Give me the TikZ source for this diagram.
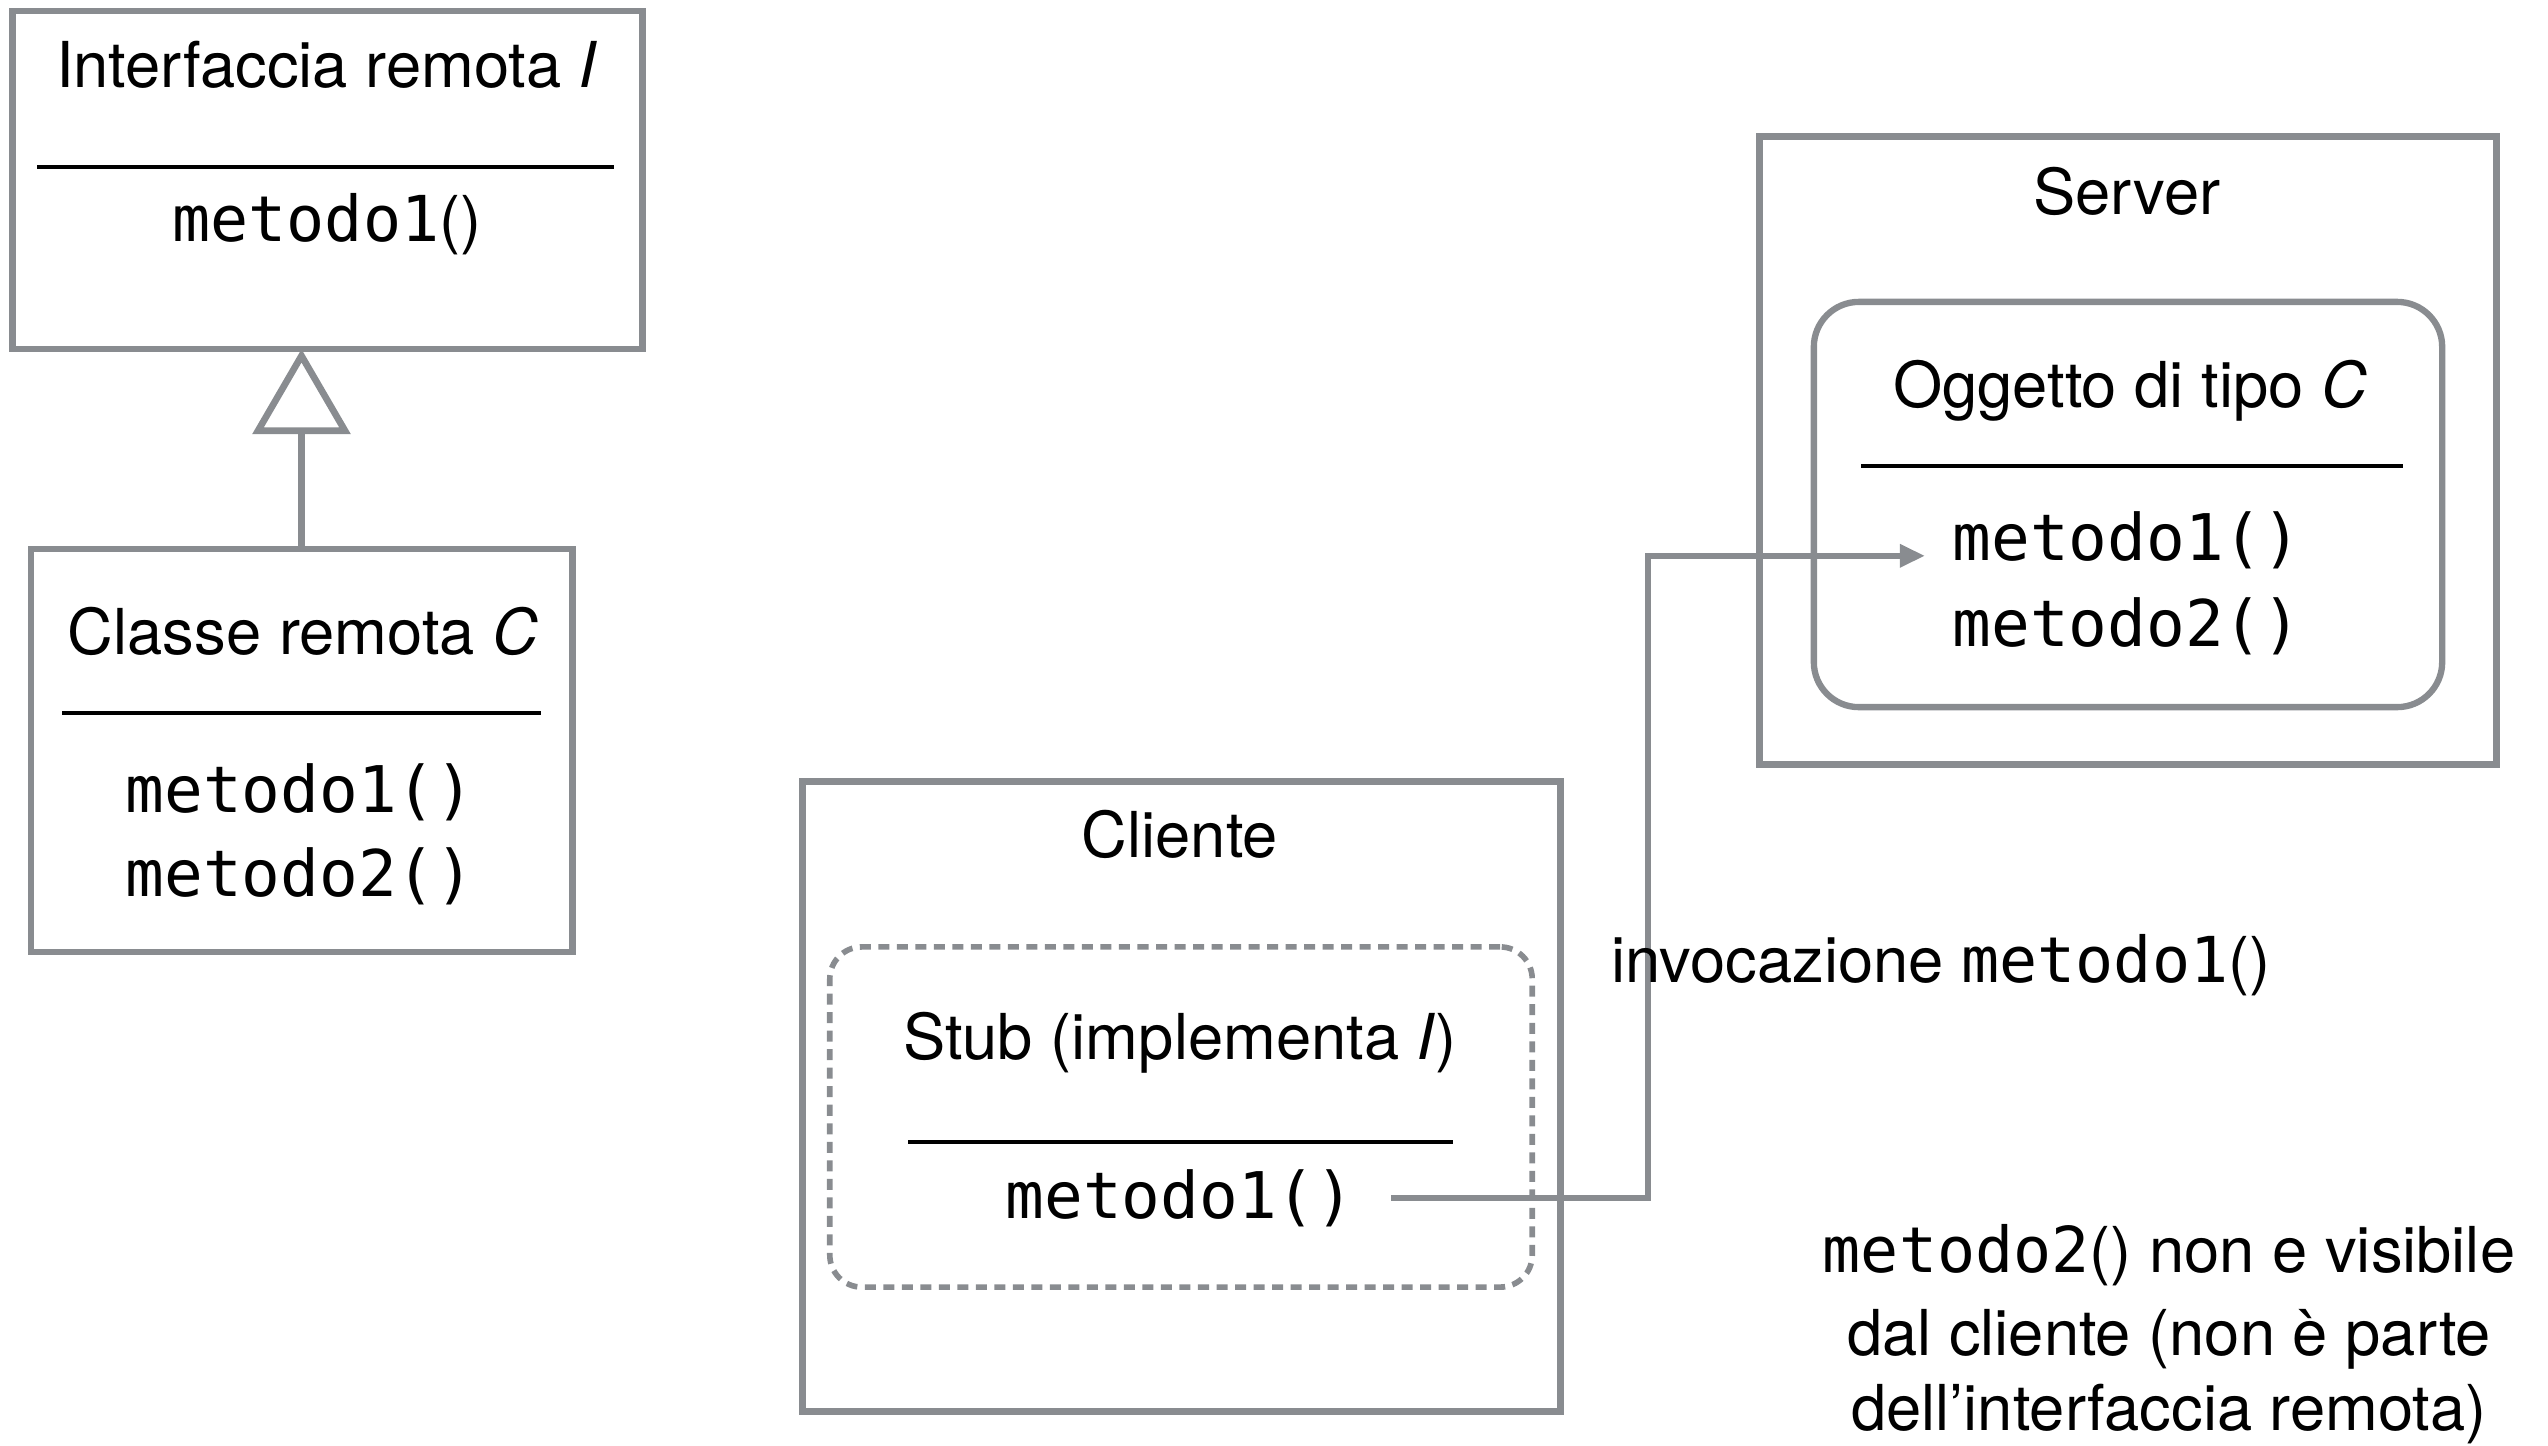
\documentclass[tikz,border=0pt]{standalone}
\usepackage{fontspec}
\setmainfont{TeX Gyre Heros}
\setmonofont{DejaVu Sans Mono}
\usetikzlibrary{arrows.meta}
\definecolor{boxgray}{RGB}{137,140,144}
\begin{document}
\begin{tikzpicture}[x=0.01cm,y=-0.01cm,
  box/.style={draw=boxgray, line width=1.9pt, inner sep=0, outer sep=0},
  rbox/.style={box, rounded corners=0.45cm, line width=1.8pt},
  dbox/.style={box, rounded corners=0.32cm, line width=1.6pt, dash pattern=on 0.11cm off 0.075cm},
  sep/.style={draw=black, line width=0.9pt},
  conn/.style={draw=boxgray, line width=1.7pt},
  txt/.style={inner sep=0, anchor=base, font=\fontsize{18}{22}\selectfont},
  mono/.style={txt, font=\fontsize{18.3}{22}\selectfont\ttfamily}]
\useasboundingbox (0,0) rectangle (2548,1445);

% boxes
\node[box, minimum width=6.29cm, minimum height=3.38cm] (iface) at (327.5,180) {};
\node[box, minimum width=5.41cm, minimum height=4.03cm] (cls) at (301.5,750.5) {};
\node[box, minimum width=7.57cm, minimum height=6.29cm] (cliente) at (1181.5,1096.5) {};
\node[dbox, minimum width=7.02cm, minimum height=3.40cm] (stub) at (1181,1117) {};
\node[box, minimum width=7.36cm, minimum height=6.27cm] (server) at (2128,450.5) {};
\node[rbox, minimum width=6.28cm, minimum height=4.05cm] (ogg) at (2128,504.5) {};

% interface
\node[txt] (ifacet) at (327,87) {Interfaccia remota \textit{I}};
\draw[sep] (37,167) -- (614,167);
\node[txt] (ifacem1) at (327,241) {\texttt{metodo1}()};

% class
\node[txt] (clst) at (303,654) {Classe remota \textit{C}};
\draw[sep] (62,713) -- (541,713);
\node[mono] (clsm1) at (300,812) {metodo1()};
\node[mono] (clsm2) at (300,896) {metodo2()};

% inheritance
\draw[conn, line width=1.9pt, -{Triangle[length=0.85cm,width=0.97cm,fill=white]}] (cls.north) -- (cls.north |- iface.south);

% client
\node[txt] (clientet) at (1180,857) {Cliente};
\node[txt] (stubt) at (1180,1059) {Stub (implementa \textit{I})};
\draw[sep] (908,1142) -- (1453,1142);
\node[mono] (stubm1) at (1180,1218) {metodo1()};

% server
\node[txt] (servert) at (2127,214) {Server};
\node[txt] (oggt) at (2130,407) {Oggetto di tipo \textit{C}};
\draw[sep] (1861,466) -- (2403,466);
\node[mono] (srvm1) at (2127,560) {metodo1()};
\node[mono] (srvm2) at (2127,646) {metodo2()};

% invocation
\coordinate (tgt) at ([yshift=-0.16cm]srvm1.west);
\coordinate (bx) at (1648,0);
\draw[conn, -{Triangle[length=0.25cm,width=0.22cm]}, shorten <=0.36cm, shorten >=0.27cm]
  (stubm1.east) -| (bx |- tgt) -- (tgt);
\node[txt] (invt) at (1941,982) {invocazione \texttt{metodo1}()};

% note
\node[txt] (note1) at (2169,1272) {\texttt{metodo2}() non e visibile};
\node[txt] (note2) at (2169,1355) {dal cliente (non è parte};
\node[txt] (note3) at (2169,1430) {dell’interfaccia remota)};
\end{tikzpicture}
\end{document}
